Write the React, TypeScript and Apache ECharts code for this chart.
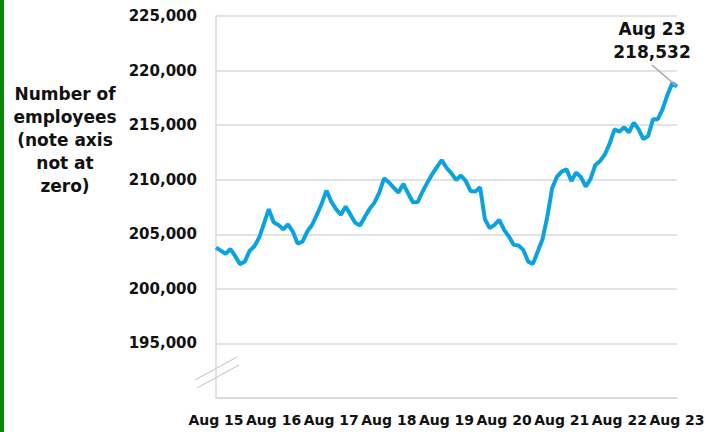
import React, { useEffect, useRef } from "react";
import * as echarts from "echarts";

// Monthly employee headcount, Aug 2015 to Aug 2023
const monthNames = ["Jan", "Feb", "Mar", "Apr", "May", "Jun", "Jul", "Aug", "Sep", "Oct", "Nov", "Dec"];
const startMonth = 7; // August
const startYear = 15;

const employees = [
  203780, 203500, 203200, 203650, 203000, 202260, 202500, 203480, 203900, 204700,
  206000, 207300, 206100, 205860, 205450, 205900, 205250, 204150, 204330, 205250,
  205850, 206780, 207780, 209000, 208000, 207300, 206800, 207540, 206800, 206050,
  205800, 206600, 207330, 207900, 208820, 210130, 209770, 209270, 208820, 209610,
  208760, 207930, 207950, 208900, 209730, 210500, 211150, 211800, 211100, 210600,
  209980, 210380, 209890, 208970, 208910, 209310, 206380, 205560, 205860, 206320,
  205400, 204790, 204030, 203970, 203570, 202500, 202290, 203420, 204550, 206620,
  209220, 210280, 210740, 210960, 209890, 210650, 210230, 209370, 210070, 211350,
  211720, 212330, 213340, 214620, 214400, 214800, 214350, 215230, 214620, 213730,
  214010, 215540, 215540, 216460, 217770, 218840, 218532,
];

const categories: string[] = employees.map((_, i) => {
  const m = startMonth + i;
  return `${monthNames[m % 12]} ${startYear + Math.floor(m / 12)}`;
});

const yMin = 190000;
const yMax = 225000;
const yStep = 5000;

const FONT = '"DejaVu Sans", Verdana, sans-serif';
const TEXT = "#111111";
const GRID = "#d9d9d9";
const LINE = "#0aa2df";

const fmt = (v: number) => v.toLocaleString("en-US");

export default function App() {
  const ref = useRef<HTMLDivElement>(null);

  useEffect(() => {
    if (!ref.current) return;
    const chart = echarts.init(ref.current, null, { renderer: "svg" });
    const last = employees.length - 1;

    chart.setOption({
      animation: false,
      backgroundColor: "#ffffff",
      grid: { left: 216, right: 38, top: 16, bottom: 34, containLabel: false },
      xAxis: {
        type: "category",
        data: categories,
        boundaryGap: false,
        axisTick: { show: false },
        axisLine: { lineStyle: { color: GRID, width: 1.5 } },
        axisLabel: {
          interval: 11,
          margin: 15,
          color: TEXT,
          fontFamily: FONT,
          fontSize: 14,
          fontWeight: "bold",
        },
        splitLine: { show: false },
      },
      yAxis: {
        type: "value",
        min: yMin,
        max: yMax,
        interval: yStep,
        axisLine: { show: true, lineStyle: { color: GRID, width: 1.5 } },
        axisTick: { show: false },
        splitLine: { lineStyle: { color: GRID, width: 1.5 } },
        axisLabel: {
          margin: 19,
          color: TEXT,
          fontFamily: FONT,
          fontSize: 15,
          fontWeight: "bold",
          formatter: (v: number) => (v === yMin ? "" : fmt(v)),
        },
      },
      series: [
        {
          type: "line",
          data: employees,
          showSymbol: false,
          symbol: "none",
          lineStyle: { color: LINE, width: 4 },
          z: 2,
        },
        {
          // latest value callout
          type: "scatter",
          data: [[categories[last], employees[last]]],
          symbolSize: 2,
          itemStyle: { color: LINE, opacity: 0 },
          z: 3,
          label: {
            show: true,
            formatter: () => `${categories[last]}\n${fmt(employees[last])}`,
            color: TEXT,
            opacity: 1,
            fontFamily: FONT,
            fontSize: 17,
            fontWeight: "bold",
            lineHeight: 23,
            align: "center",
            padding: [0, 0, 4, 0],
          },
          labelLayout: { x: 652, y: 40, align: "center", verticalAlign: "middle" },
          labelLine: { show: true, length2: 0, lineStyle: { color: "#a6a6a6", width: 1.5, opacity: 1 } },
        },
      ],
      graphic: [
        {
          type: "rect",
          shape: { x: 0, y: 0, width: 4, height: 432 },
          style: { fill: "#0a870a" },
          silent: true,
        },
        {
          type: "text",
          x: 65,
          y: 140,
          style: {
            text: "Number of\nemployees\n(note axis\nnot at\nzero)",
            fontFamily: FONT,
            fontSize: 17,
            fontWeight: "bold",
            lineHeight: 23,
            fill: TEXT,
            align: "center",
            verticalAlign: "middle",
          },
        },
        // axis break marks
        {
          type: "line",
          shape: { x1: 195, y1: 380, x2: 237, y2: 357 },
          style: { stroke: "#bfbfbf", lineWidth: 1 },
        },
        {
          type: "line",
          shape: { x1: 197, y1: 388, x2: 239, y2: 365 },
          style: { stroke: "#bfbfbf", lineWidth: 1 },
        },
      ],
    });

    return () => chart.dispose();
  }, []);

  return (
    <div
      ref={ref}
      style={{ position: "fixed", left: 0, top: 0, width: 715, height: 432 }}
    />
  );
}
